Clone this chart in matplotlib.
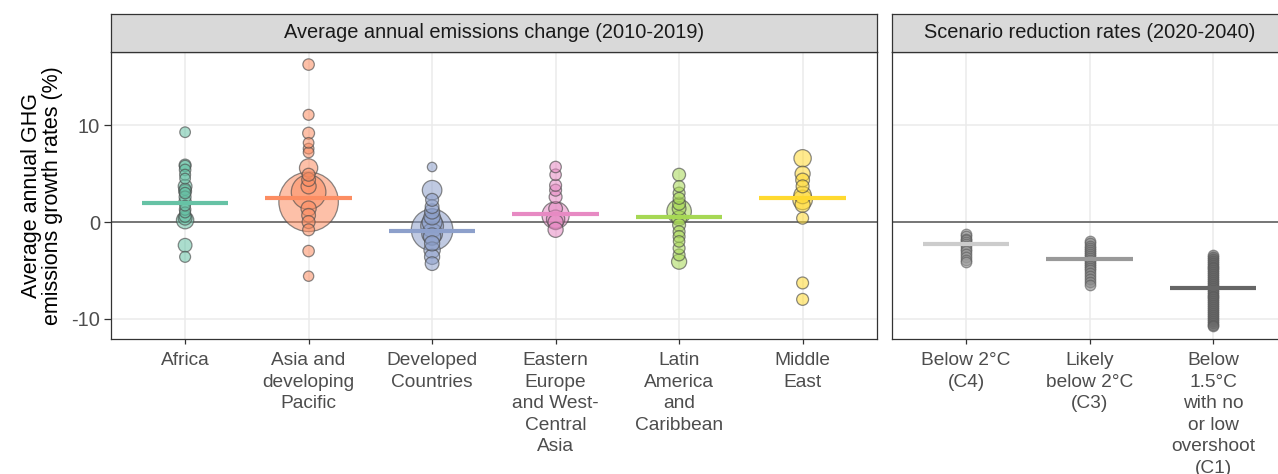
import numpy as np
import matplotlib
matplotlib.use("Agg")
import matplotlib.pyplot as plt

# ---------------- data ----------------
categories = ["Africa", "Asia and\ndeveloping\nPacific", "Developed\nCountries",
              "Eastern\nEurope\nand West-\nCentral\nAsia", "Latin\nAmerica\nand\nCaribbean",
              "Middle\nEast"]
region_colors = ["#66C2A5", "#FC8D62", "#8DA0CB", "#E78AC3", "#A6D854", "#FFD92F"]

africa_vals = [9.3, 5.9, 5.8, 5.4, 4.9, 4.5, 3.7, 3.4, 3.2, 3.0, 2.6, 2.1, 1.7, 1.3, 1.0, 0.6, 0.4, 0.2, -2.4, -3.6]
africa_w    = [0.05, 0.1, 0.08, 0.08, 0.06, 0.05, 0.2, 0.1, 0.15, 0.08, 0.1, 0.12, 0.05, 0.08, 0.06, 0.1, 0.2, 0.5, 0.2, 0.06]

asia_vals = [16.3, 11.1, 9.2, 8.2, 7.6, 7.2, 5.6, 4.9, 4.4, 3.7, 3.1, 2.1, 1.4, 0.7, 0.0, -0.8, -3.0, -5.6]
asia_w    = [0.08, 0.06, 0.1, 0.05, 0.05, 0.05, 0.6, 0.15, 0.2, 0.3, 3.8, 14.0, 0.3, 0.2, 0.15, 0.1, 0.08, 0.04]

dev_vals = [5.7, 3.3, 2.3, 1.6, 1.1, 0.55, 0.0, -0.4, -0.8, -1.2, -1.5, -2.2, -2.9, -3.6, -4.3]
dev_w    = [0.02, 0.75, 0.15, 0.2, 0.3, 0.4, 0.8, 1.2, 6.0, 0.9, 0.5, 0.3, 0.4, 0.3, 0.2]

ee_vals = [5.7, 4.9, 3.8, 3.3, 2.6, 1.4, 0.7, 0.3, 0.0, -0.8]
ee_w    = [0.08, 0.08, 0.1, 0.1, 0.15, 0.2, 2.0, 0.6, 0.3, 0.3]

la_vals = [4.9, 3.7, 3.0, 2.45, 1.9, 1.4, 1.1, 0.4, -0.3, -1.0, -1.5, -2.0, -2.7, -3.4, -4.1]
la_w    = [0.15, 0.08, 0.1, 0.1, 0.15, 0.2, 1.5, 0.3, 0.15, 0.1, 0.1, 0.08, 0.1, 0.1, 0.3]

me_vals = [6.6, 5.0, 4.35, 3.7, 2.8, 2.3, 1.8, 0.4, -6.3, -8.0]
me_w    = [0.5, 0.3, 0.2, 0.15, 0.5, 0.75, 0.3, 0.1, 0.1, 0.1]

region_means = [1.95, 2.45, -0.95, 0.8, 0.55, 2.5]

scenarios = ["Below 2°C\n(C4)", "Likely\nbelow 2°C\n(C3)",
             "Below\n1.5°C\nwith no\nor low\novershoot\n(C1)"]
scenario_colors = ["#cccccc", "#999999", "#666666"]
c4_vals = [-1.2, -1.4, -1.7, -1.9, -2.1, -2.3, -2.5, -2.8, -3.0, -3.3, -3.6, -3.9, -4.1]
c3_vals = [-2.0, -2.2, -2.5, -2.7, -2.9, -3.1, -3.3, -3.5, -3.7, -3.9, -4.1, -4.3,
           -4.5, -4.8, -5.0, -5.3, -5.6, -5.9, -6.2, -6.5]
c1_vals = [-3.4, -3.6, -3.8, -4.0, -4.2, -4.4, -4.6, -4.8, -5.0, -5.2, -5.4, -5.6,
           -5.8, -6.0, -6.2, -6.4, -6.6, -6.8, -7.0, -7.2, -7.4, -7.6, -7.8, -8.0,
           -8.2, -8.4, -8.6, -8.8, -9.0, -9.2, -9.4, -9.6, -9.8, -10.0, -10.2, -10.4,
           -10.6, -10.8]
scenario_means = [-2.3, -3.8, -6.8]

region_vals = [africa_vals, asia_vals, dev_vals, ee_vals, la_vals, me_vals]
region_w = [africa_w, asia_w, dev_w, ee_w, la_w, me_w]
scenario_vals = [c4_vals, c3_vals, c1_vals]

# ---------------- figure ----------------
main_font = ["Liberation Sans", "DejaVu Sans"]
tick_size = 13.8

W, H = 1278, 474
fig = plt.figure(figsize=(W / 100, H / 100), dpi=100)

def fx(px):
    return px / W

def fy(py):
    return 1 - py / H

panel_top, panel_bot, strip_top = 52, 339, 14
unit = 123.5
left_x0 = 111
right_x0 = 892
ax1 = fig.add_axes([fx(left_x0), fy(panel_bot), 6.2 * unit / W, (panel_bot - panel_top) / H])
ax2 = fig.add_axes([fx(right_x0), fy(panel_bot), 3.2 * unit / W, (panel_bot - panel_top) / H])

ylim = (-12.1, 17.6)
tick_ls = 21.9 / (tick_size * 100 / 72 * 0.85)

def px_to_s(d):
    return (d * 0.72) ** 2

for ax in (ax1, ax2):
    ax.set_ylim(*ylim)
    ax.set_yticks([-10, 0, 10])
    ax.grid(True, color="#ebebeb", lw=1.1, zorder=0)
    ax.set_axisbelow(True)
    ax.axhline(0, color="#555555", lw=1.1, zorder=1)
    for sp in ax.spines.values():
        sp.set_color("#333333")
        sp.set_linewidth(0.9)
        sp.set_zorder(5)
    ax.tick_params(axis="x", length=3.5, width=0.9, color="#333333", pad=6,
                   labelsize=tick_size, labelcolor="#4d4d4d")
    ax.tick_params(axis="y", length=5, width=0.9, color="#333333", pad=3,
                   labelsize=14.5, labelcolor="#4d4d4d")

# regions panel
ax1.set_xlim(0.4, 6.6)
ax1.set_xticks(range(1, 7))
ax1.set_xticklabels(categories, family=main_font, linespacing=tick_ls, va="top")
ax1.set_yticklabels(["-10", "0", "10"], family=main_font)
for i, (vals, ws, col) in enumerate(zip(region_vals, region_w, region_colors)):
    x = i + 1
    order = np.argsort(ws)[::-1]
    v = np.array(vals)[order]
    w = np.array(ws)[order]
    d = 7.5 + 52 * np.sqrt(w / 14.0)
    rgba = matplotlib.colors.to_rgba(col, 0.55)
    ax1.scatter(np.full(len(v), x), v, s=px_to_s(d), facecolor=rgba,
                edgecolor=(0.3, 0.3, 0.3, 0.65), linewidth=0.9, zorder=3)
    ax1.hlines(region_means[i], x - 0.35, x + 0.35, color=col, lw=3.0, zorder=4)

# scenarios panel
ax2.set_xlim(0.4, 3.6)
ax2.set_xticks(range(1, 4))
ax2.set_xticklabels(scenarios, family=main_font, linespacing=tick_ls, va="top")
ax2.tick_params(axis="y", left=False, labelleft=False)
for i, (vals, col) in enumerate(zip(scenario_vals, scenario_colors)):
    x = i + 1
    ptcol = ["#9a9a9a", "#8a8a8a", "#6a6a6a"][i]
    ax2.scatter(np.full(len(vals), x), vals, s=px_to_s(10.5),
                facecolor=matplotlib.colors.to_rgba(ptcol, 0.6),
                edgecolor=(0.35, 0.35, 0.35, 0.6), linewidth=0.9, zorder=3)
    ax2.hlines(scenario_means[i], x - 0.35, x + 0.35, color=col, lw=3.0, zorder=4)

# strips
def strip(x0, width_px, label):
    sax = fig.add_axes([fx(x0), fy(panel_top), width_px / W, (panel_top - strip_top) / H])
    sax.set_facecolor("#d9d9d9")
    sax.set_xticks([])
    sax.set_yticks([])
    for sp in sax.spines.values():
        sp.set_color("#333333")
        sp.set_linewidth(0.9)
    sax.text(0.5, 0.5, label, ha="center", va="center", fontsize=14.4,
             color="#1a1a1a", family=main_font, transform=sax.transAxes)

strip(left_x0, 6.2 * unit, "Average annual emissions change (2010-2019)")
strip(right_x0, 3.2 * unit, "Scenario reduction rates (2020-2040)")

fig.text(fx(42), fy((panel_top + panel_bot) / 2),
         "Average annual GHG\nemissions growth rates (%)",
         rotation=90, ha="center", va="center", multialignment="center",
         fontsize=15.5, family=main_font, color="black", linespacing=0.95)

fig.savefig("out.png", dpi=100, facecolor="white")
